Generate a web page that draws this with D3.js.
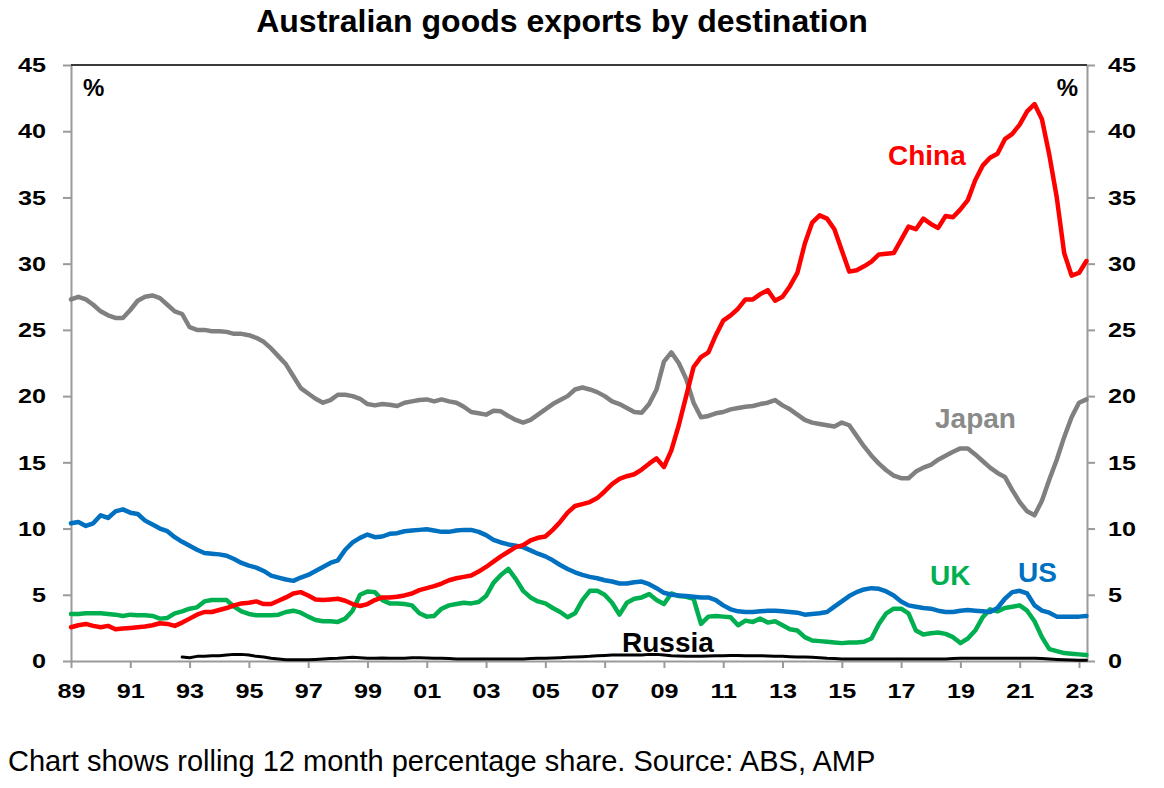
<!DOCTYPE html>
<html>
<head>
<meta charset="utf-8">
<script src="https://cdn.jsdelivr.net/npm/d3@7"></script>
<style>
  body { margin: 0; background: #fff; }
  text { font-family: "Liberation Sans", Arial, sans-serif; }
</style>
</head>
<body>
<div id="chart"></div>
<script>
// ---------------------------------------------------------
// DATA - quarterly readings, first point is Q1 1989

const startYear = 1989
const step = 0.25   // one quarter

const japan = [
  27.3, 27.5, 27.3, 26.9,   26.4, 26.1, 25.9, 25.9,   26.5, 27.2, 27.5, 27.6,   27.4, 26.9, 26.4, 26.2,
  25.2, 25.0, 25.0, 24.9,   24.9, 24.85, 24.7, 24.7,  24.6, 24.4, 24.1, 23.6,   23.0, 22.4, 21.5, 20.6,
  20.2, 19.8, 19.5, 19.7,   20.1, 20.1, 20.0, 19.8,   19.4, 19.3, 19.4, 19.35,  19.25, 19.5, 19.6, 19.7,
  19.75, 19.6, 19.75, 19.6, 19.5, 19.2, 18.8, 18.7,   18.6, 18.9, 18.85, 18.5,  18.2, 18.0, 18.2, 18.6,
  19.0, 19.4, 19.7, 20.0,   20.5, 20.65, 20.5, 20.3,  20.0, 19.6, 19.4, 19.1,   18.8, 18.75, 19.4, 20.5,
  22.6, 23.3, 22.5, 21.3,   19.5, 18.4, 18.5, 18.7,   18.8, 19.0, 19.1, 19.2,   19.25, 19.4, 19.5, 19.7,
  19.3, 19.0, 18.6, 18.2,   18.0, 17.9, 17.8, 17.7,   18.0, 17.8, 17.0, 16.2,   15.5, 14.9, 14.4, 14.0,
  13.8, 13.8, 14.3, 14.6,   14.8, 15.2, 15.5, 15.8,   16.05, 16.05, 15.6, 15.1, 14.6, 14.2, 13.9, 12.9,
  12.0, 11.3, 11.0, 12.1,   13.7, 15.2, 16.9, 18.4,   19.5, 19.75
]

const china = [
  2.55, 2.7, 2.8, 2.65,     2.55, 2.65, 2.4, 2.45,    2.5, 2.55, 2.6, 2.7,      2.85, 2.8, 2.65, 2.9,
  3.2, 3.5, 3.7, 3.7,       3.85, 4.0, 4.2, 4.35,     4.4, 4.5, 4.3, 4.3,       4.55, 4.8, 5.1, 5.2,
  4.95, 4.65, 4.6, 4.65,    4.7, 4.55, 4.3, 4.15,     4.3, 4.6, 4.8, 4.8,       4.85, 4.95, 5.1, 5.35,
  5.5, 5.65, 5.85, 6.1,     6.25, 6.35, 6.45, 6.75,   7.1, 7.5, 7.9, 8.25,      8.6, 8.75, 9.1, 9.3,
  9.4, 9.9, 10.5, 11.2,     11.7, 11.85, 12.0, 12.3,  12.8, 13.35, 13.75, 13.95, 14.1, 14.45, 14.9, 15.3,
  14.65, 15.9, 17.8, 20.0,  22.2, 22.95, 23.3, 24.6,  25.7, 26.1, 26.6, 27.3,   27.3, 27.7, 28.0, 27.2,
  27.5, 28.3, 29.3, 31.5,   33.1, 33.65, 33.4, 32.6,  31.0, 29.4, 29.5, 29.8,   30.15, 30.7, 30.75, 30.8,
  31.8, 32.8, 32.6, 33.4,   33.0, 32.7, 33.6, 33.5,   34.1, 34.8, 36.3, 37.4,   38.0, 38.3, 39.4, 39.8,
  40.5, 41.5, 42.05, 40.9,  38.2, 35.0, 30.8, 29.1,   29.3, 30.2
]

const us = [
  10.4, 10.5, 10.2, 10.4,   11.0, 10.8, 11.3, 11.45,  11.2, 11.1, 10.6, 10.3,   10.0, 9.8, 9.35, 9.0,
  8.7, 8.4, 8.15, 8.1,      8.05, 7.95, 7.7, 7.4,     7.2, 7.05, 6.8, 6.45,     6.3, 6.15, 6.05, 6.3,
  6.5, 6.8, 7.1, 7.4,       7.6, 8.4, 8.95, 9.3,      9.55, 9.35, 9.4, 9.6,     9.65, 9.8, 9.85, 9.9,
  9.95, 9.85, 9.75, 9.75,   9.85, 9.9, 9.9, 9.75,     9.5, 9.15, 8.95, 8.8,     8.7, 8.6, 8.35, 8.1,
  7.9, 7.6, 7.25, 6.95,     6.7, 6.5, 6.35, 6.25,     6.1, 6.0, 5.85, 5.85,     5.95, 6.0, 5.8, 5.5,
  5.15, 5.0, 4.95, 4.9,     4.85, 4.8, 4.8, 4.6,      4.2, 3.9, 3.75, 3.7,      3.7, 3.75, 3.8, 3.8,
  3.75, 3.7, 3.65, 3.5,     3.55, 3.6, 3.7, 4.1,      4.5, 4.9, 5.2, 5.4,       5.5, 5.45, 5.25, 4.95,
  4.5, 4.2, 4.1, 4.0,       3.95, 3.8, 3.7, 3.7,      3.8, 3.85, 3.8, 3.75,     3.7, 4.0, 4.7, 5.2,
  5.3, 5.1, 4.2, 3.8,       3.65, 3.35, 3.35, 3.35,   3.35, 3.4
]

const uk = [
  3.55, 3.55, 3.6, 3.6,     3.6, 3.55, 3.5, 3.4,      3.5, 3.45, 3.45, 3.4,     3.2, 3.25, 3.6, 3.75,
  3.95, 4.05, 4.5, 4.6,     4.6, 4.6, 4.1, 3.75,      3.55, 3.45, 3.45, 3.45,   3.5, 3.7, 3.8, 3.65,
  3.35, 3.1, 3.0, 3.0,      2.95, 3.2, 3.8, 5.0,      5.25, 5.2, 4.6, 4.35,     4.35, 4.3, 4.2, 3.6,
  3.35, 3.4, 3.95, 4.2,     4.3, 4.4, 4.35, 4.45,     4.9, 5.9, 6.5, 6.95,      6.2, 5.3, 4.8, 4.5,
  4.35, 4.0, 3.7, 3.3,      3.6, 4.6, 5.3, 5.3,       5.0, 4.4, 3.5, 4.4,       4.7, 4.8, 5.05, 4.6,
  4.3, 5.1, 4.9, 4.85,      4.7, 2.8, 3.35, 3.4,      3.35, 3.3, 2.7, 3.05,     2.95, 3.2, 2.9, 3.0,
  2.7, 2.4, 2.3, 1.8,       1.55, 1.5, 1.45, 1.4,     1.35, 1.4, 1.4, 1.45,     1.7, 2.8, 3.6, 3.95,
  3.95, 3.6, 2.3, 2.0,      2.1, 2.15, 2.05, 1.8,     1.35, 1.7, 2.3, 3.3,      3.9, 3.75, 4.0, 4.1,
  4.2, 3.8, 3.0, 1.8,       0.9, 0.75, 0.6, 0.55,     0.5, 0.45
]

// no Russia series before late 1992
const russia = [
  null, null, null, null,   null, null, null, null,   null, null, null, null,   null, null, null, 0.3,
  0.25, 0.35, 0.35, 0.4,    0.4, 0.45, 0.5, 0.5,      0.45, 0.35, 0.3, 0.2,     0.15, 0.1, 0.1, 0.1,
  0.1, 0.12, 0.15, 0.18,    0.2, 0.25, 0.28, 0.25,    0.2, 0.2, 0.22, 0.2,      0.2, 0.2, 0.25, 0.25,
  0.22, 0.2, 0.2, 0.18,     0.15, 0.15, 0.15, 0.15,   0.15, 0.15, 0.15, 0.15,   0.15, 0.15, 0.18, 0.2,
  0.2, 0.22, 0.25, 0.28,    0.3, 0.32, 0.35, 0.4,     0.42, 0.45, 0.45, 0.45,   0.45, 0.45, 0.5, 0.5,
  0.45, 0.4, 0.38, 0.35,    0.35, 0.35, 0.38, 0.4,    0.4, 0.42, 0.42, 0.4,     0.4, 0.4, 0.38, 0.35,
  0.35, 0.32, 0.3, 0.3,     0.28, 0.25, 0.2, 0.18,    0.15, 0.15, 0.15, 0.15,   0.15, 0.15, 0.15, 0.15,
  0.15, 0.15, 0.15, 0.15,   0.15, 0.15, 0.15, 0.18,   0.2, 0.2, 0.2, 0.2,       0.2, 0.2, 0.2, 0.2,
  0.2, 0.2, 0.2, 0.18,      0.15, 0.12, 0.1, 0.08,    0.05, 0.05
]

const yTicks = [0, 5, 10, 15, 20, 25, 30, 35, 40, 45]
const xTicks = [1989, 1991, 1993, 1995, 1997, 1999, 2001, 2003, 2005, 2007,
                2009, 2011, 2013, 2015, 2017, 2019, 2021, 2023]

const series = [
  { name: "Russia", values: russia, color: "#000000", width: 3 },
  { name: "UK",     values: uk,     color: "#00b050", width: 4.5 },
  { name: "US",     values: us,     color: "#0070c0", width: 4.5 },
  { name: "Japan",  values: japan,  color: "#808080", width: 4.5 },
  { name: "China",  values: china,  color: "#ff0000", width: 4.5 }
]

// labels sit next to the lines
const labels = [
  { text: "China",  x: 888, y: 165, color: "#ff0000" },
  { text: "Japan",  x: 935, y: 428, color: "#8a8a8a" },
  { text: "UK",     x: 930, y: 585, color: "#00b050" },
  { text: "US",     x: 1018, y: 582, color: "#0070c0" },
  { text: "Russia", x: 622, y: 652, color: "#000000" }
]

// ---------------------------------------------------------
// SIZES

const width = 1164
const height = 788
const margin = { left: 71, right: 77, top: 65, bottom: 127 }
const stretch = 1.2   // tick numbers are drawn a bit wide in the original

const svg = d3.select("#chart").append("svg")
  .attr("width", width).attr("height", height)

// SCALES

const x = d3.scaleLinear()
  .domain([startYear, 2023.27])
  .range([margin.left, width - margin.right])
const y = d3.scaleLinear()
  .domain([0, 45])
  .range([height - margin.bottom, margin.top])

// TITLE + FOOTER

svg.append("text")
  .attr("x", 562).attr("y", 32)
  .attr("text-anchor", "middle")
  .style("font-size", "32px").style("font-weight", "bold")
  .text("Australian goods exports by destination")

svg.append("text")
  .attr("x", 8).attr("y", 771)
  .style("font-size", "29px")
  .text("Chart shows rolling 12 month percentage share. Source: ABS, AMP")

// AXES

const axisColor = "#9a9a9a"

const leftAxis = svg.append("g")
  .attr("transform", `translate(${margin.left},0)`)
  .call(d3.axisLeft(y).tickValues(yTicks).tickSize(8).tickPadding(17).tickSizeOuter(0))
leftAxis.selectAll("text")
  .attr("x", -25 / stretch)
  .attr("transform", `scale(${stretch},1)`)

const rightAxis = svg.append("g")
  .attr("transform", `translate(${width - margin.right},0)`)
  .call(d3.axisRight(y).tickValues(yTicks).tickSize(8).tickPadding(13).tickSizeOuter(0))
rightAxis.selectAll("text")
  .attr("x", 21 / stretch)
  .attr("transform", `scale(${stretch},1)`)

const bottomAxis = svg.append("g")
  .attr("transform", `translate(0,${height - margin.bottom})`)
  .call(d3.axisBottom(x).tickValues(xTicks).tickSize(7).tickPadding(15).tickSizeOuter(0)
    .tickFormat(d => String(d % 100).padStart(2, "0")))
bottomAxis.selectAll("text")
  .attr("transform", `scale(${stretch},1)`)

svg.selectAll(".domain, .tick line")
  .attr("stroke", axisColor).attr("stroke-width", 2)
svg.selectAll(".tick text")
  .attr("fill", "#000")
  .style("font-family", "Liberation Sans, Arial, sans-serif")
  .style("font-size", "21px").style("font-weight", "bold")

// dark line along the top of the plot
svg.append("line")
  .attr("x1", margin.left).attr("x2", width - margin.right)
  .attr("y1", margin.top).attr("y2", margin.top)
  .attr("stroke", "#3a3a3a").attr("stroke-width", 2)

// % signs
svg.append("text").attr("x", 83).attr("y", 96)
  .style("font-size", "24px").style("font-weight", "bold").text("%")
svg.append("text").attr("x", 1078).attr("y", 96).attr("text-anchor", "end")
  .style("font-size", "24px").style("font-weight", "bold").text("%")

// LINES

const line = d3.line()
  .defined(d => d != null)
  .x((d, i) => x(startYear + i * step))
  .y(d => y(d))

svg.append("g").selectAll("path")
  .data(series)
  .join("path")
  .attr("d", d => line(d.values))
  .attr("fill", "none")
  .attr("stroke", d => d.color)
  .attr("stroke-width", d => d.width)
  .attr("stroke-linejoin", "round")
  .attr("stroke-linecap", "round")

// SERIES LABELS

svg.append("g").selectAll("text")
  .data(labels)
  .join("text")
  .attr("x", d => d.x).attr("y", d => d.y)
  .attr("fill", d => d.color)
  .style("font-size", "28px").style("font-weight", "bold")
  .text(d => d.text)
</script>
</body>
</html>
